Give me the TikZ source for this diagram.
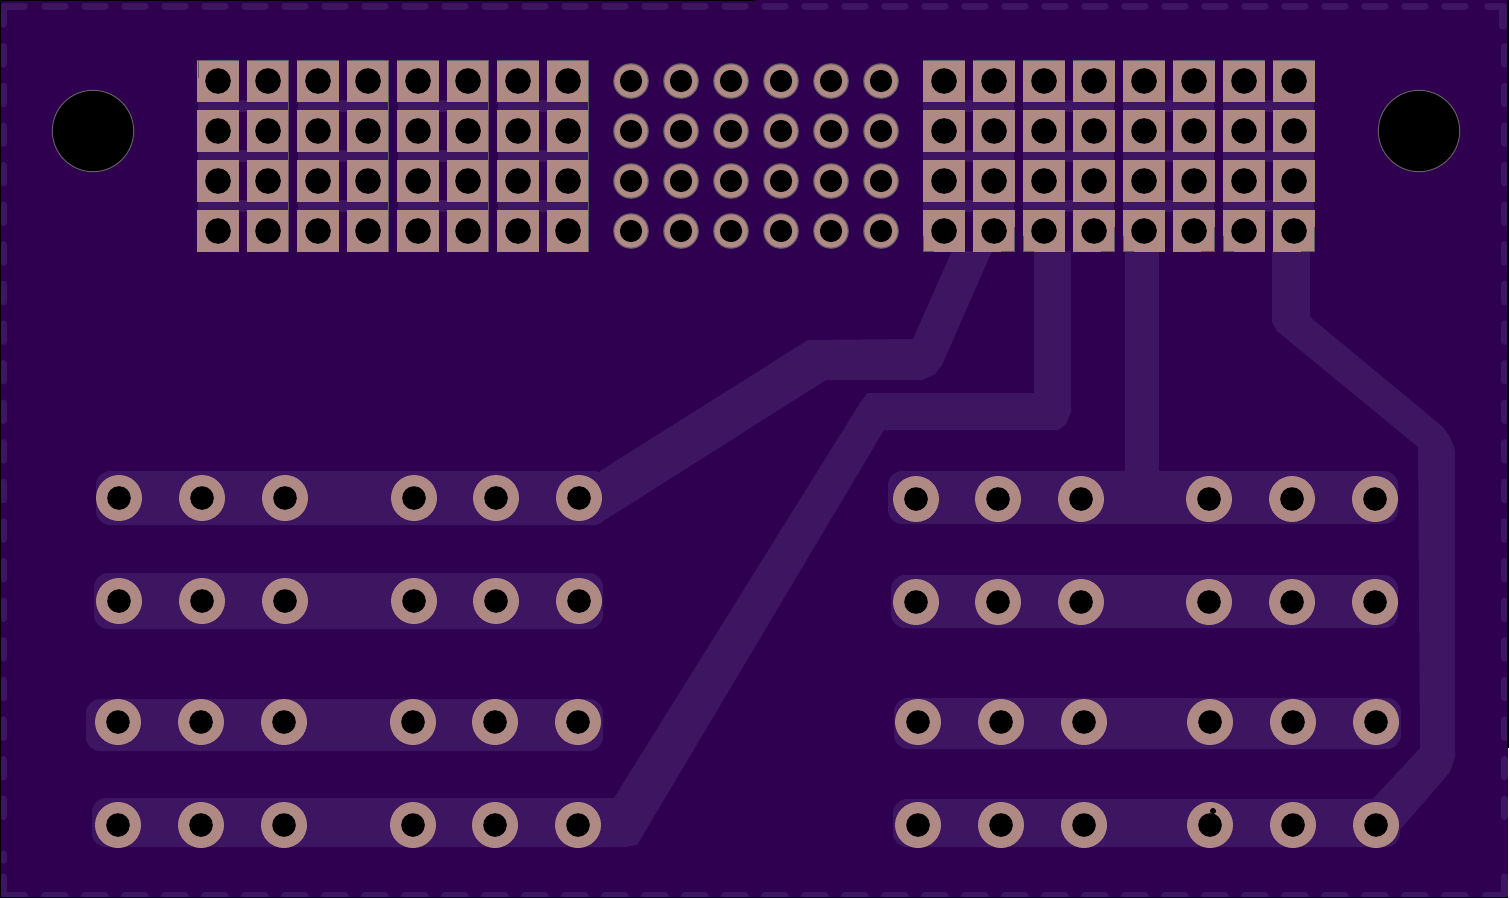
\documentclass[tikz,border=0pt]{standalone}
\definecolor{board}{HTML}{300050}
\definecolor{trace}{HTML}{3D1560}
\definecolor{padc}{HTML}{AF8A85}
\definecolor{edgegrey}{HTML}{606060}
\tikzset{
  x=1pt,y=-1pt,
  band/.style={fill=trace,rounded corners=14pt},
  rim/.style={draw=trace,line width=7.5pt,line cap=round,line join=round},
  greyline/.style={draw=edgegrey,line width=1pt}
}
\newcommand{\throughpad}[2]{\fill[padc] (#1,#2) circle[radius=23];\fill[black] (#1,#2) circle[radius=11.8];}
\newcommand{\ringpad}[2]{\fill[edgegrey] (#1,#2) circle[radius=17.8];\fill[padc] (#1,#2) circle[radius=16.6];\fill[black] (#1,#2) circle[radius=11.1];}
\newcommand{\squarepad}[2]{\fill[padc] ({#1-20.8},{#2-21}) rectangle ({#1+20.8},{#2+20.8});\fill[black] (#1,#2) circle[radius=12.8];}
\begin{document}
\begin{tikzpicture}
\useasboundingbox (0,0) rectangle (1510,899);
\fill[white] (0,0) rectangle (1510,899);
% board
\fill[board] (0,0) rectangle (1508,897.5);
% rim dashes
\begin{scope}
\clip (0,0) rectangle (1508,897.5);
\foreach \k in {1,...,36} {
  \draw[rim] ({4.8+40*\k-0.0},6.3) -- ({4.8+40*\k+20},6.3);
  \draw[rim] ({4.8+40*\k-0.0},895.5) -- ({4.8+40*\k+20},895.5);
}
\draw[rim] (4.8,6.3) -- (24,6.3);
\draw[rim] (4.8,895.5) -- (24,895.5);
\foreach \k in {1,...,20} {
  \draw[rim] (3.5,{46.8+39.6*(\k-1)}) -- (3.5,{64+39.6*(\k-1)});
  \draw[rim] (1504.5,{46.8+39.6*(\k-1)}) -- (1504.5,{64+39.6*(\k-1)});
}
\draw[rim] (3.5,24) -- (3.5,6.3) -- (24,6.3);
\draw[rim] (1503,26) -- (1503,6.3) -- (1488,6.3);
\draw[rim] (1504.5,877) -- (1504.5,895.5) -- (1486,895.5);
\draw[rim] (3.5,877) -- (3.5,892);
\draw[rim] (3.5,854) -- (3.5,860);
\end{scope}
% bands behind the through pads, left
\fill[band] (96,471) rectangle (608,525);
\fill[band] (94,573) rectangle (603,629);
\fill[band] (86,699) rectangle (603,751);
\fill[band] (92,798) rectangle (620,847);
% bands, right
\fill[band] (888,471) rectangle (1398,524);
\fill[band] (891,575) rectangle (1398,628);
\fill[band] (894,698) rectangle (1401,749);
\fill[band] (893,799) rectangle (1400,847);
% traces
\fill[trace] (952,251) -- (992,251) -- (942,365) -- (935,374) -- (922,380) -- (826,380) -- (605,520) -- (585,505) -- (600,471) -- (808,340) -- (913,339) -- cycle;
\fill[trace] (1034,251) -- (1071,251) -- (1071,412) -- (1066,424) -- (1058,430) -- (884,430) -- (637,845) -- (625,847) -- (590,847) -- (590,798) -- (614,798) -- (860,403) -- (868,393) -- (1034,393) -- cycle;
\fill[trace] (1125,251) rectangle (1159,499);
\fill[trace] (1272,251) -- (1310,251) -- (1310,317) -- (1443,427) -- (1450,437) -- (1455,450) -- (1455,757) -- (1450,772) -- (1398,832) -- (1376,840) -- (1372,800) -- (1420,748) -- (1418,447) -- (1277,331) -- (1272,322) -- cycle;
% strips between pad rows
\foreach \xa in {197.5,297.5,397.5,497.5,923,1023,1123,1223} {
  \foreach \ya in {100,150,200} {
    \fill[trace] (\xa,\ya) rectangle ({\xa+91},{\ya+12});
  }
}
% square pads
\foreach \xc in {218,268,318,368,418,468,518,568,944,994,1044,1094,1144,1194,1244,1294} {
  \foreach \yc in {81,131,181,231} {
    \squarepad{\xc}{\yc}
  }
  \draw[greyline] ({\xc-20.8},60.5) -- ({\xc+20.8},60.5);
}
% grey edges of the square pads, left block
\foreach \xc in {268,368,468,568} {
  \draw[greyline] ({\xc+20.3},60) -- ({\xc+20.3},252);
}
\draw[greyline] (198,60) -- (198,78);
% grey corners, right block
\foreach \xc in {944,1044,1144,1244} {
  \draw[greyline] ({\xc-20.5},236) -- ({\xc-20.5},251.5) -- ({\xc-10},251.5);
}
\foreach \xc in {994,1094,1194,1294} {
  \draw[greyline] ({\xc+20.5},227) -- ({\xc+20.5},251.5) -- ({\xc+7},251.5);
}
% ring pads
\foreach \xc in {631,681,731,781,831,881} {
  \foreach \yc in {81,131,181,231} {
    \ringpad{\xc}{\yc}
  }
}
% mounting holes
\draw[edgegrey,fill=black,line width=1pt] (93,131) circle[radius=40.7];
\draw[edgegrey,fill=black,line width=1pt] (1419,131) circle[radius=40.7];
% through pads, left
\foreach \xc in {119,202,285,414,496,579} {
  \throughpad{\xc}{498}
  \throughpad{\xc}{601}
}
\foreach \xc in {118,201,284,413,495,578} {
  \throughpad{\xc}{722}
  \throughpad{\xc}{825}
}
% through pads, right
\foreach \xc in {916,998,1081,1209,1292,1375} {
  \throughpad{\xc}{499}
  \throughpad{\xc}{602}
}
\foreach \xc in {918,1001,1084,1210,1293,1376} {
  \throughpad{\xc}{722}
  \throughpad{\xc}{825}
}
\fill[black] (1213,811) circle[radius=3];
% outer frame
\draw[black,line width=1.2pt] (0.6,898) -- (0.6,0.6) -- (755,0.6);
\draw[black,line width=1.5pt] (0,897.7) -- (1508,897.7);
\draw[black,line width=1.2pt] (1508,0) -- (1508,748);
\end{tikzpicture}
\end{document}
